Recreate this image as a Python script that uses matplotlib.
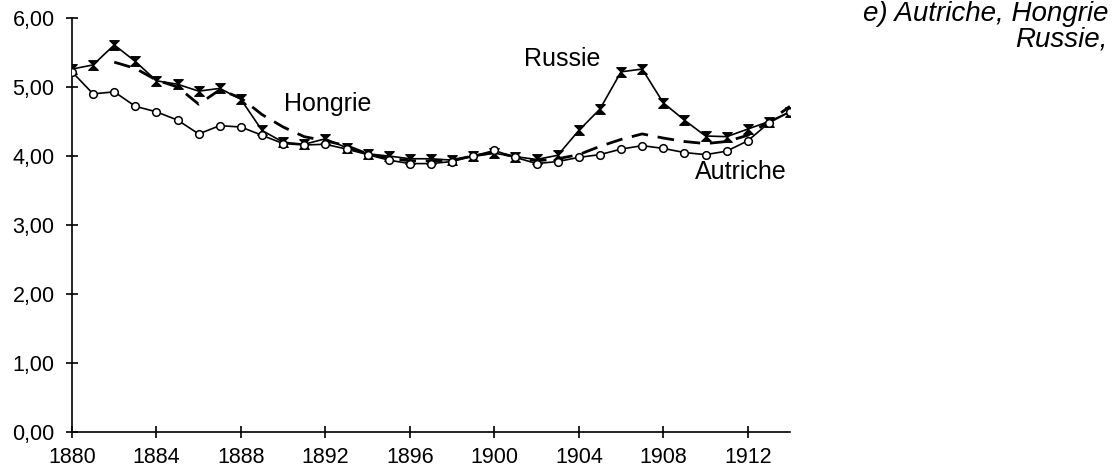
import numpy as np
import matplotlib
matplotlib.use("Agg")
import matplotlib.pyplot as plt
from matplotlib.ticker import FuncFormatter

years = list(range(1880, 1915))

autriche = [5.22, 4.90, 4.93, 4.72, 4.64, 4.52, 4.32, 4.44, 4.42, 4.30,
            4.18, 4.16, 4.17, 4.10, 4.02, 3.94, 3.89, 3.89, 3.92, 4.00,
            4.08, 3.98, 3.89, 3.92, 3.98, 4.02, 4.10, 4.15, 4.11, 4.05,
            4.02, 4.07, 4.22, 4.48, 4.64]

russie = [5.26, 5.32, 5.61, 5.37, 5.09, 5.04, 4.94, 4.98, 4.82, 4.37,
          4.20, 4.17, 4.25, 4.12, 4.03, 4.00, 3.96, 3.96, 3.94, 4.00,
          4.04, 3.99, 3.95, 4.01, 4.37, 4.68, 5.22, 5.26, 4.77, 4.52,
          4.29, 4.28, 4.39, 4.50, 4.64]

hongrie = [np.nan, np.nan, 5.36, 5.27, 5.10, 5.00, 4.75, 4.96, 4.84, 4.60,
           4.42, 4.28, 4.22, 4.15, 4.03, 3.97, 3.93, 3.93, 3.94, 4.00,
           4.05, 3.99, 3.93, 3.96, 4.02, 4.14, 4.24, 4.32, 4.26, 4.21,
           4.18, 4.21, 4.30, 4.50, 4.72]

xticks = list(range(1880, 1913, 4))
yticks = [0, 1, 2, 3, 4, 5, 6]

plt.rcParams['font.family'] = ['Liberation Sans', 'DejaVu Sans']

fig = plt.figure(figsize=(11.14, 4.70), dpi=100)
ax = fig.add_axes([72/1114, 38/470, (790-72)/1114, (432-18)/470])

bowtie = [(-1, 1), (1, 1), (-1, -1), (1, -1), (-1, 1)]

ax.plot(years, hongrie, color='black', lw=2.0, dashes=(6, 3.5), zorder=2)
ax.plot(years, russie, color='black', lw=1.2, marker=bowtie, markersize=7,
        markerfacecolor='black', markeredgecolor='black', markeredgewidth=0.8, zorder=3)
ax.plot(years, autriche, color='black', lw=1.2, marker='o', markersize=5.5,
        markerfacecolor='white', markeredgecolor='black', markeredgewidth=1.1, zorder=4)

ax.set_xlim(1880, 1914)
ax.set_ylim(0, 6)
ax.set_xticks(xticks)
ax.set_yticks(yticks)
ax.yaxis.set_major_formatter(FuncFormatter(lambda v, p: f"{v:.2f}".replace('.', ',')))

for s in ['top', 'right']:
    ax.spines[s].set_visible(False)
for s in ['left', 'bottom']:
    ax.spines[s].set_linewidth(1.2)
ax.tick_params(direction='inout', length=9, width=1.2, labelsize=15.5)
ax.tick_params(axis='x', pad=6)
ax.tick_params(axis='y', pad=8)

ax.text(1892.1, 4.75, 'Hongrie', fontsize=18, ha='center', va='center')
ax.text(1903.2, 5.40, 'Russie', fontsize=18, ha='center', va='center')
ax.text(1909.5, 3.77, 'Autriche', fontsize=18, ha='left', va='center')

fig.text(1108/1114, 1 - 14/470, 'e) Autriche, Hongrie', fontsize=20, style='italic',
         ha='right', va='center')
fig.text(1108/1114, 1 - 40/470, 'Russie,', fontsize=20, style='italic',
         ha='right', va='center')

fig.savefig('out.png', dpi=100)
